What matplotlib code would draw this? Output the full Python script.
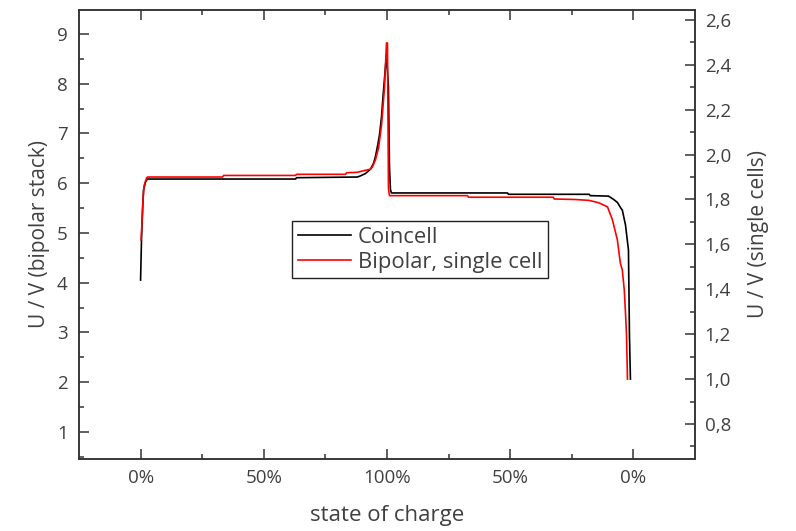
import matplotlib
matplotlib.use("Agg")
import matplotlib.pyplot as plt
from matplotlib.ticker import MultipleLocator, FixedLocator, FuncFormatter

plt.rcParams["font.family"] = ["Open Sans", "DejaVu Sans"]

# x: 0..1 = charge (0% -> 100%), 1..2 = discharge (100% -> 0%)
coin_x = [0.0, 0.004, 0.008, 0.012, 0.020, 0.028, 0.629, 0.633, 0.880, 0.892,
          0.912, 0.933, 0.945, 0.953, 0.962, 0.970, 0.978, 0.984, 0.990, 0.996,
          0.998, 1.006, 1.010, 1.014, 1.018, 1.489, 1.493, 1.821, 1.825, 1.899,
          1.920, 1.935, 1.950, 1.955, 1.968, 1.980, 1.984, 1.988]
coin_v = [1.441, 1.629, 1.753, 1.842, 1.878, 1.891, 1.891, 1.897, 1.900, 1.905,
          1.915, 1.935, 1.960, 1.990, 2.040, 2.090, 2.170, 2.260, 2.340, 2.420,
          2.444, 2.300, 1.950, 1.845, 1.829, 1.829, 1.823, 1.823, 1.817, 1.815,
          1.800, 1.787, 1.760, 1.753, 1.686, 1.575, 1.196, 1.000]

bip_x = [0.002, 0.006, 0.010, 0.014, 0.024, 0.028, 0.333, 0.337, 0.629, 0.633,
         0.832, 0.836, 0.880, 0.901, 0.933, 0.941, 0.953, 0.966, 0.978, 0.990,
         0.998, 1.002, 1.006, 1.010, 1.327, 1.331, 1.675, 1.679, 1.760, 1.820,
         1.860, 1.895, 1.915, 1.935, 1.947, 1.955, 1.963, 1.968, 1.972, 1.976]
bip_v = [1.620, 1.700, 1.800, 1.860, 1.895, 1.900, 1.900, 1.907, 1.907, 1.912,
         1.912, 1.919, 1.921, 1.927, 1.935, 1.945, 1.976, 2.030, 2.132, 2.300,
         2.497, 2.497, 1.850, 1.817, 1.817, 1.810, 1.810, 1.802, 1.800, 1.796,
         1.785, 1.767, 1.709, 1.620, 1.517, 1.486, 1.397, 1.294, 1.200, 1.000]

soc_ticks = [0, 0.5, 1.0, 1.5, 2.0]
soc_labels = ["0%", "50%", "100%", "50%", "0%"]

txt = "#404040"
spine = "#333333"

fig = plt.figure(figsize=(7.96, 5.31), dpi=100)
ax = fig.add_axes([0.0992, 0.1356, 0.7739, 0.8456])
ax2 = ax.twinx()

ax2.plot(coin_x, coin_v, color="black", lw=1.2, label="Coincell")
ax2.plot(bip_x, bip_v, color="#ff0000", lw=1.2, label="Bipolar, single cell")

ax.set_xlim(-0.25, 2.25)
ax.set_ylim(0.457, 9.482)
ax2.set_ylim(0.644, 2.644)

ax.xaxis.set_major_locator(FixedLocator(soc_ticks))
ax.set_xticklabels(soc_labels)
ax.xaxis.set_minor_locator(FixedLocator([0.25, 0.75, 1.25, 1.75]))
ax.yaxis.set_major_locator(MultipleLocator(1))
ax.yaxis.set_minor_locator(MultipleLocator(0.5))
ax2.yaxis.set_major_locator(MultipleLocator(0.2))
ax2.yaxis.set_minor_locator(MultipleLocator(0.1))
ax2.yaxis.set_major_formatter(FuncFormatter(lambda v, p: f"{v:.1f}".replace(".", ",")))

ax.tick_params(which="both", direction="in", top=True, bottom=True, left=True,
               right=False, color=spine, width=1.1, labelcolor=txt, labelsize=13.5)
ax.tick_params(which="major", length=7)
ax.tick_params(which="minor", length=3.5)
ax.tick_params(axis="x", pad=7)
ax.tick_params(axis="y", pad=8)
ax2.tick_params(which="both", direction="in", color=spine, width=1.1,
                labelcolor=txt, labelsize=13.5, pad=7)
ax2.tick_params(which="major", length=7)
ax2.tick_params(which="minor", length=3.5)

for a in (ax, ax2):
    for s in a.spines.values():
        s.set_color(spine)
        s.set_linewidth(1.1)

ax.set_xlabel("state of charge", fontsize=16, color=txt, labelpad=13)
ax.set_ylabel("U / V (bipolar stack)", fontsize=15, color=txt, labelpad=5)
ax2.set_ylabel("U / V (single cells)", fontsize=15, color=txt, rotation=90, labelpad=12)

leg = ax2.legend(loc="upper left", bbox_to_anchor=(0.346, 0.530), borderaxespad=0,
                 fontsize=15.8, fancybox=False, edgecolor="#222222",
                 handlelength=2.45, handletextpad=0.3, borderpad=0.25,
                 labelspacing=0.2, framealpha=1)
leg.get_frame().set_linewidth(1.0)
for t in leg.get_texts():
    t.set_color(txt)

fig.savefig("out.png", dpi=100)
